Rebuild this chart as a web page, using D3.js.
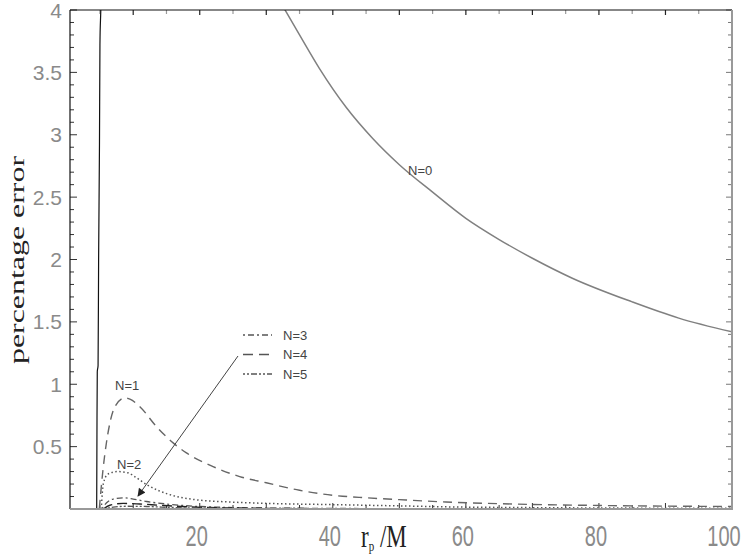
<!DOCTYPE html>
<html>
<head>
<meta charset="utf-8">
<script src="https://cdn.jsdelivr.net/npm/d3@7"></script>
<style>
  body { margin: 0; background: #fff; }
  svg { display: block; }
</style>
</head>
<body>
<svg id="chart" width="744" height="554"></svg>
<script>
// values (r_p/M , percentage error)
var steepR   = [4.51, 4.55, 4.6, 4.72, 4.8, 4.93, 5.0, 5.16, 5.2];
var steepErr = [0, 0.6, 1.1, 1.15, 2.0, 2.92, 3.72, 4.1, 4.3];

var n0R   = [32.5, 35, 38, 42, 46, 50, 55, 60, 65, 70, 76, 85, 92, 100];
var n0Err = [4.03, 3.8, 3.53, 3.22, 2.97, 2.76, 2.54, 2.33, 2.16, 2.01, 1.85, 1.66, 1.53, 1.42];

var n1R   = [4.9, 5.45, 6.5, 7.25, 8.75, 9.5, 11, 13.5, 16, 18, 22, 26, 30, 35, 40, 45, 50, 57, 67, 82, 100];
var n1Err = [0, 0.31, 0.69, 0.82, 0.89, 0.88, 0.82, 0.66, 0.53, 0.45, 0.34, 0.26, 0.21, 0.15, 0.11, 0.09, 0.075, 0.056, 0.04, 0.027, 0.02];

var n2R   = [5.2, 5.5, 6.2, 7.7, 9.2, 10.5, 12.2, 15.2, 19.3, 25, 30, 40, 50, 60, 100];
var n2Err = [0, 0.2, 0.28, 0.3, 0.29, 0.25, 0.19, 0.12, 0.075, 0.055, 0.045, 0.035, 0.025, 0.015, 0.005];

var n3R   = [5.3, 6, 7, 8.5, 10, 12, 15, 20, 30, 50, 100];
var n3Err = [0, 0.05, 0.08, 0.09, 0.08, 0.06, 0.04, 0.02, 0.008, 0.003, 0.001];

var n4R   = [5.5, 6.5, 8.5, 11, 14, 18, 25, 40, 100];
var n4Err = [0, 0.03, 0.045, 0.04, 0.03, 0.018, 0.008, 0.003, 0.001];

var n5R   = [5.6, 7, 9, 12, 16, 22, 35, 100];
var n5Err = [0, 0.015, 0.022, 0.02, 0.012, 0.006, 0.002, 0.0005];

var xTicks = [20, 40, 60, 80, 100];
var yTicks = [0.5, 1, 1.5, 2, 2.5, 3, 3.5, 4];
var legendNames = ["N=3", "N=4", "N=5"];

var svg = d3.select("#chart");
var plotL = 70, plotR = 732, plotT = 10, plotB = 509;

var x = d3.scaleLinear().domain([0.5, 100]).range([plotL, plotR]);
var y = d3.scaleLinear().domain([0, 4]).range([plotB, plotT]);

var defs = svg.append("defs");
defs.append("clipPath").attr("id", "plotclip")
  .append("rect").attr("x", plotL).attr("y", plotT)
  .attr("width", plotR - plotL).attr("height", plotB - plotT);

defs.append("marker")
    .attr("id", "arrowhead").attr("viewBox", "0 0 10 10")
    .attr("refX", 9).attr("refY", 5)
    .attr("markerWidth", 10).attr("markerHeight", 8)
    .attr("markerUnits", "userSpaceOnUse")
    .attr("orient", "auto")
  .append("path").attr("d", "M0,0 L10,5 L0,10 z").attr("fill", "#222");

// ticks, drawn inward on all four sides
var minorX = d3.range(5, 101, 5);
var minorY = d3.range(1, 41).map(function(d) { return d / 10; });
var tg = svg.append("g").attr("class", "ticks");

function isMajorY(d) { return Math.abs(d * 2 - Math.round(d * 2)) < 1e-6; }

tg.selectAll(".ly").data(minorY).enter().append("line")
    .attr("x1", plotL).attr("x2", function(d) { return plotL + (isMajorY(d) ? 7 : 4); })
    .attr("y1", function(d) { return y(d); }).attr("y2", function(d) { return y(d); })
    .attr("stroke", "#333").attr("stroke-width", 1);
tg.selectAll(".ry").data(minorY).enter().append("line")
    .attr("x1", plotR).attr("x2", function(d) { return plotR - (isMajorY(d) ? 6 : 4); })
    .attr("y1", function(d) { return y(d); }).attr("y2", function(d) { return y(d); })
    .attr("stroke", "#777").attr("stroke-width", 1);
tg.selectAll(".tx").data(minorX).enter().append("line")
    .attr("x1", function(d) { return x(d); }).attr("x2", function(d) { return x(d); })
    .attr("y1", plotT).attr("y2", function(d) { return plotT + (d % 10 === 0 ? 5 : 4); })
    .attr("stroke", function(d) { return d % 10 === 0 ? "#222" : "#999"; }).attr("stroke-width", 1.2);
tg.selectAll(".bx").data(minorX).enter().append("line")
    .attr("x1", function(d) { return x(d); }).attr("x2", function(d) { return x(d); })
    .attr("y1", plotB).attr("y2", function(d) { return plotB - (d % 10 === 0 ? 6 : 4); })
    .attr("stroke", "#333").attr("stroke-width", 1);

// curves
var line = d3.line()
    .x(function(d) { return x(d[0]); })
    .y(function(d) { return y(d[1]); })
    .curve(d3.curveMonotoneX);

var curves = svg.append("g").attr("clip-path", "url(#plotclip)");

function drawCurve(rs, errs, color, width, dash) {
  var pts = d3.zip(rs, errs);
  curves.append("path")
    .datum(pts)
    .attr("d", line)
    .attr("fill", "none")
    .attr("stroke", color)
    .attr("stroke-width", width)
    .attr("stroke-dasharray", dash);
}

drawCurve(steepR, steepErr, "#111", 1.2, null);
drawCurve(n0R, n0Err, "#808080", 1.5, null);
drawCurve(n1R, n1Err, "#666", 1.4, "9,6");
drawCurve(n2R, n2Err, "#555", 1.5, "1.5,2.5");
drawCurve(n3R, n3Err, "#555", 1.3, "2,3,6,3");
drawCurve(n4R, n4Err, "#222", 1.4, "10,5");
drawCurve(n5R, n5Err, "#555", 1.3, "2,2,2,2,6,2");

// frame
svg.append("line").attr("x1", plotL).attr("x2", plotL).attr("y1", plotT).attr("y2", plotB)
    .attr("stroke", "#111").attr("stroke-width", 1.2);
svg.append("line").attr("x1", plotL).attr("x2", plotR).attr("y1", plotT).attr("y2", plotT)
    .attr("stroke", "#111").attr("stroke-width", 1.2);
svg.append("line").attr("x1", plotR).attr("x2", plotR).attr("y1", plotT).attr("y2", plotB + 1)
    .attr("stroke", "#999").attr("stroke-width", 2);
svg.append("line").attr("x1", plotL).attr("x2", plotR + 1).attr("y1", plotB).attr("y2", plotB)
    .attr("stroke", "#999").attr("stroke-width", 2);

// tick labels
svg.selectAll(".ylab").data(yTicks).enter().append("text")
    .attr("x", 62).attr("y", function(d) { return y(d) + 7.5; })
    .attr("text-anchor", "end")
    .style("font-family", "Liberation Sans, Arial, sans-serif")
    .style("font-size", "21px").style("fill", "#8a8a8a")
    .text(function(d) { return d; });

svg.selectAll(".xlab").data(xTicks).enter().append("text")
    .attr("transform", function(d) {
      var px = Math.min(x(d) - 3, 724);
      return "translate(" + px + ",546) scale(1,1.45)";
    })
    .attr("text-anchor", "middle")
    .style("font-family", "Liberation Sans, Arial, sans-serif")
    .style("font-size", "20px").style("fill", "#8a8a8a")
    .text(function(d) { return d; });

// axis titles
var xt = svg.append("text")
    .attr("transform", "translate(361,547) scale(1,1.4)")
    .style("font-family", "Liberation Serif, Times New Roman, serif")
    .style("font-size", "23px").style("fill", "#222");
xt.append("tspan").style("fill", "#222").text("r");
xt.append("tspan").attr("dy", 3).style("font-size", "11px").style("fill", "#222").text("p");
xt.append("tspan").attr("dy", -3).style("fill", "#222").text(" /M");

svg.append("text")
    .attr("transform", "translate(24,260) rotate(-90) scale(1.45,1)")
    .attr("text-anchor", "middle")
    .style("font-family", "Liberation Serif, Times New Roman, serif")
    .style("font-size", "22px").style("fill", "#222")
    .text("percentage error");

// curve labels
var labelFont = "Liberation Sans, Arial, sans-serif";
function curveLabel(tx, ty, s) {
  svg.append("text").attr("x", tx).attr("y", ty)
    .style("font-family", labelFont).style("font-size", "13px").style("fill", "#444")
    .text(s);
}
curveLabel(408, 175, "N=0");
curveLabel(115, 390, "N=1");
curveLabel(117, 469, "N=2");

// legend for the small curves
var legendDash = ["2,3,6,3", "10,6", "2,2,2,2,6,2"];
var legendY = d3.scalePoint().domain(legendNames).range([335, 374]);
var lg = svg.append("g");
lg.selectAll("line").data(legendNames).enter().append("line")
    .attr("x1", 243).attr("x2", 272)
    .attr("y1", function(d) { return legendY(d); }).attr("y2", function(d) { return legendY(d); })
    .attr("stroke", "#555").attr("stroke-width", 1.3)
    .attr("stroke-dasharray", function(d, i) { return legendDash[i]; });
lg.selectAll("text").data(legendNames).enter().append("text")
    .attr("x", 283).attr("y", function(d) { return legendY(d) + 4.5; })
    .style("font-family", labelFont).style("font-size", "13px").style("fill", "#444")
    .text(function(d) { return d; });

// arrow from the legend to the small curves
svg.append("line")
    .attr("x1", 238).attr("y1", 356).attr("x2", 138).attr("y2", 496)
    .attr("stroke", "#444").attr("stroke-width", 1)
    .attr("marker-end", "url(#arrowhead)");
</script>
</body>
</html>
